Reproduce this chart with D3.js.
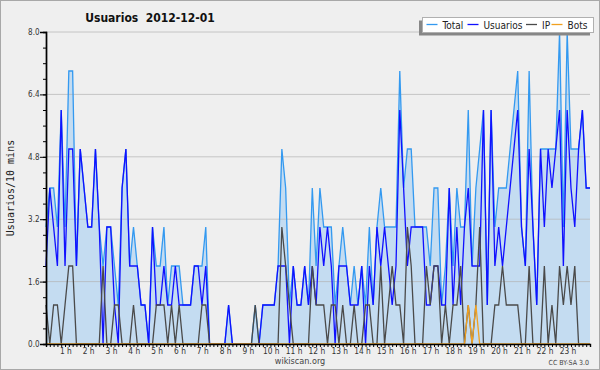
<!DOCTYPE html>
<html>
<head>
<meta charset="utf-8">
<script src="https://cdn.jsdelivr.net/npm/d3@7"></script>
<style>
  body { margin: 0; background: #efefef; }
  svg { display: block; font-family: "DejaVu Sans Condensed", "DejaVu Sans", sans-serif; font-stretch: condensed; }
</style>
</head>
<body>
<svg width="600" height="370"></svg>
<script>
// chart data, one value every 10 minutes (144 slots)
const title = "Usuarios  2012-12-01";
const yLabel = "Usuarios/10 mins";
const yTicks = [0, 1.6, 3.2, 4.8, 6.4, 8.0];
const hourLabels = ["1 h","2 h","3 h","4 h","5 h","6 h","7 h","8 h","9 h","10 h","11 h","12 h",
  "13 h","14 h","15 h","16 h","17 h","18 h","19 h","20 h","21 h","22 h","23 h"];
const seriesNames = ["Total", "Usuarios", "IP", "Bots"];

const total = [
  3,4,4,3,6,3,7,7,2,5, 4,3,3,5,3,2,3,3,2,1, 4,5,2,3,2,1,1,0,3,2,
  2,3,1,2,2,2,1,1,1,2, 2,2,3,0,0,0,0,0,1,0, 0,0,0,0,0,1,0,1,1,1,
  1,2,5,4,1,2,1,1,2,1, 4,2,4,3,3,3,1,2,3,2, 1,2,1,2,1,3,1,3,4,3,
  3,3,3,7,4,5,5,3,3,3, 3,2,4,4,1,2,4,2,4,3, 3,6,2,4,5,6,1,6,3,4,
  4,4,5,6,7,3,2,7,3,1, 5,5,5,5,5,8,3,8,5,5, 5,6,4,4];
const usuarios = [
  2,4,3,2,6,2,5,5,2,5, 4,3,3,5,3,0,3,3,1,0, 4,5,2,2,2,1,1,0,3,1,
  1,2,1,1,2,1,1,1,1,2, 2,1,2,0,0,0,0,0,1,0, 0,0,0,0,0,0,0,1,1,1,
  1,2,2,2,0,2,1,1,2,1, 2,1,3,2,3,2,0,2,2,2, 1,1,1,2,0,2,1,3,2,3,
  2,1,2,6,4,2,3,3,3,3, 1,1,2,2,1,1,4,1,3,1, 3,4,2,2,2,6,1,6,2,3,
  2,3,4,5,6,3,2,5,3,1, 5,3,5,4,5,6,2,6,4,3, 5,6,4,4];
const ip = [
  1,0,1,1,0,1,2,2,0,0, 0,0,0,0,0,2,0,0,1,1, 0,0,0,1,0,0,0,0,0,1,
  1,1,0,1,0,1,0,0,0,0, 0,1,1,0,0,0,0,0,0,0, 0,0,0,0,0,1,0,0,0,0,
  0,0,3,2,1,0,0,0,0,0, 2,1,1,1,0,1,1,0,1,0, 0,1,0,0,1,1,0,0,2,0,
  1,2,1,1,0,3,2,0,0,0, 2,1,2,2,0,1,0,1,1,2, 0,1,0,1,3,0,0,0,1,1,
  2,1,1,1,1,0,0,2,0,0, 0,2,0,1,0,2,1,2,1,2, 0,0,0,0];
const bots = [
  0,0,0,0,0,0,0,0,0,0, 0,0,0,0,0,0,0,0,0,0, 0,0,0,0,0,0,0,0,0,0,
  0,0,0,0,0,0,0,0,0,0, 0,0,0,0,0,0,0,0,0,0, 0,0,0,0,0,0,0,0,0,0,
  0,0,0,0,0,0,0,0,0,0, 0,0,0,0,0,0,0,0,0,0, 0,0,0,0,0,0,0,0,0,0,
  0,0,0,0,0,0,0,0,0,0, 0,0,0,0,0,0,0,0,0,0, 0,1,0,1,0,0,0,0,0,0,
  0,0,0,0,0,0,0,0,0,0, 0,0,0,0,0,0,0,0,0,0, 0,0,0,0];

const colors = { Total: "#3399f0", Usuarios: "#1010ff", IP: "#4a4a4a", Bots: "#f0a020" };

let margin = { top: 32, right: 10, bottom: 26, left: 46 };
let width = 600, height = 370;
let plotWidth = width - margin.left - margin.right;
let plotHeight = height - margin.top - margin.bottom;

let svg = d3.select("svg");

svg.append("rect")
  .attr("x", 0.5).attr("y", 0.5)
  .attr("width", width - 1).attr("height", height - 1)
  .attr("fill", "#efefef")
  .attr("stroke", "#a8a8a8");

let x = d3.scaleLinear().domain([0, total.length - 1]).range([0, plotWidth]);
let y = d3.scaleLinear().domain([0, 8]).range([plotHeight, 0]);

let plot = svg.append("g").attr("id", "plot")
  .attr("transform", "translate(" + margin.left + "," + margin.top + ")");

// filled total area
let area = d3.area()
  .x((d, i) => x(i))
  .y0(y(0))
  .y1(d => y(d));

plot.append("path")
  .datum(total)
  .attr("fill", "#c4dcf1")
  .attr("d", area);

// horizontal grid
plot.append("g").attr("id", "grid")
  .selectAll("line")
  .data(yTicks.filter(d => d > 0))
  .enter().append("line")
  .attr("x1", 0).attr("x2", plotWidth)
  .attr("y1", d => y(d)).attr("y2", d => y(d))
  .attr("stroke", "#b4b4b4")
  .attr("stroke-opacity", 0.7);

let line = d3.line()
  .x((d, i) => x(i))
  .y(d => y(d));

let series = [
  { name: "Total", values: total },
  { name: "Usuarios", values: usuarios },
  { name: "IP", values: ip },
  { name: "Bots", values: bots }
];

plot.selectAll("path.series")
  .data(series)
  .enter().append("path")
  .attr("class", "series")
  .attr("fill", "none")
  .attr("stroke", d => colors[d.name])
  .attr("stroke-width", 1.3)
  .attr("stroke-linejoin", "miter")
  .attr("d", d => line(d.values));

// axes
let yMinor = d3.axisLeft(y).tickValues(d3.range(0, 8.01, 0.4)).tickSize(3).tickFormat("");
let yAxis = d3.axisLeft(y).tickValues(yTicks).tickSize(6).tickFormat(d3.format(".1f"));

let yMinorGroup = plot.append("g").call(yMinor);
let yGroup = plot.append("g").attr("id", "y-axis").call(yAxis);
[yMinorGroup, yGroup].forEach(g => {
  g.select(".domain").attr("stroke", "#000").attr("stroke-width", 1.4);
  g.selectAll(".tick line").attr("stroke", "#000");
});
yGroup.selectAll("text")
  .attr("x", -6.5)
  .attr("fill", "#333")
  .style("font-size", "8px");
yGroup.attr("font-family", null).attr("font-size", null);

let xMinor = d3.axisBottom(x).tickValues(d3.range(0, total.length)).tickSize(3).tickFormat("");
let xGroup = plot.append("g").attr("id", "x-axis")
  .attr("transform", "translate(0," + plotHeight + ")")
  .call(xMinor);
xGroup.select(".domain").attr("stroke", "#000").attr("stroke-width", 1.4);
xGroup.selectAll(".tick line").attr("stroke", "#000");

plot.append("g").attr("id", "hours")
  .selectAll("text")
  .data(hourLabels)
  .enter().append("text")
  .attr("x", (d, i) => x((i + 1) * 6) - 3)
  .attr("y", plotHeight + 9.5)
  .attr("text-anchor", "middle")
  .attr("fill", "#333")
  .style("font-size", "8.3px")
  .text(d => d);

// titles
svg.append("text")
  .attr("x", 150).attr("y", 21.5)
  .attr("text-anchor", "middle")
  .style("font-size", "12px")
  .style("font-weight", "bold")
  .attr("fill", "#111")
  .attr("xml:space", "preserve")
  .style("white-space", "pre")
  .text(title);

svg.append("text")
  .attr("transform", "translate(13.5," + (margin.top + plotHeight / 2) + ") rotate(-90)")
  .attr("text-anchor", "middle")
  .style("font-family", "'DejaVu Sans Mono', monospace")
  .style("font-size", "10px")
  .attr("fill", "#222")
  .text(yLabel);

// legend
let legend = svg.append("g").attr("id", "legend");
legend.append("rect")
  .attr("x", 419).attr("y", 20.5).attr("width", 171).attr("height", 15)
  .attr("fill", "#878787");
legend.append("rect")
  .attr("x", 422.5).attr("y", 17.5).attr("width", 171).attr("height", 15)
  .attr("fill", "#fff").attr("stroke", "#b0b0b0");

let legendX = [426.5, 467.5, 526, 551.5];
let items = legend.selectAll("g.item")
  .data(seriesNames)
  .enter().append("g")
  .attr("class", "item")
  .attr("transform", (d, i) => "translate(" + legendX[i] + ",0)");
items.append("line")
  .attr("x1", 0).attr("x2", 11)
  .attr("y1", 24.5).attr("y2", 24.5)
  .attr("stroke", d => colors[d])
  .attr("stroke-width", 1.3);
items.append("text")
  .attr("x", 16).attr("y", 28.5)
  .attr("fill", "#222")
  .style("font-size", "10px")
  .text(d => d);

// footer
svg.append("text")
  .attr("x", 300).attr("y", 364)
  .attr("text-anchor", "middle")
  .attr("fill", "#444")
  .style("font-size", "9px")
  .text("wikiscan.org");

svg.append("text")
  .attr("x", 589).attr("y", 364.5)
  .attr("text-anchor", "end")
  .attr("fill", "#444")
  .style("font-size", "7px")
  .text("CC BY-SA 3.0");
</script>
</body>
</html>
